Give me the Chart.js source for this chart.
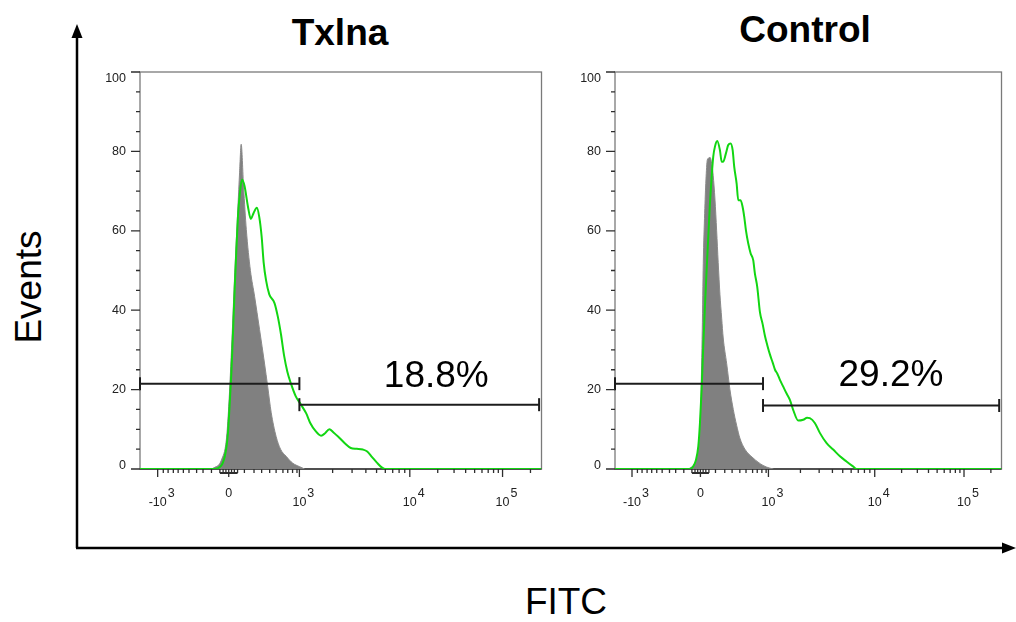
<!DOCTYPE html>
<html>
<head>
<meta charset="utf-8">
<script src="https://cdn.jsdelivr.net/npm/chart.js@4.4.1/dist/chart.umd.min.js"></script>
<style>
  html, body { margin: 0; padding: 0; background: #fff; }
  #stage { position: relative; width: 1016px; height: 622px; overflow: hidden; }
  #frame { position: absolute; left: 0; top: 0; }
  canvas { position: absolute; top: 60px; }
  #cLeft { left: 90px; }
  #cRight { left: 565px; }
  svg text { font-family: "Liberation Sans", Arial, sans-serif; fill: #000; }
</style>
</head>
<body>
<div id="stage">
  <svg id="frame" width="1016" height="622">
    <line x1="77" y1="548" x2="77" y2="36" stroke="#000" stroke-width="2.5"/>
    <polygon points="77,24 71.5,38 82.5,38" fill="#000"/>
    <line x1="76" y1="548" x2="1004" y2="548" stroke="#000" stroke-width="2.5"/>
    <polygon points="1016,548 1002,542.5 1002,553.5" fill="#000"/>
    <text x="340" y="45" font-size="37" font-weight="bold" text-anchor="middle">Txlna</text>
    <text x="805" y="42" font-size="37" font-weight="bold" text-anchor="middle">Control</text>
    <text transform="translate(41,287) rotate(-90)" font-size="37" text-anchor="middle">Events</text>
    <text x="566" y="614" font-size="37" text-anchor="middle">FITC</text>
  </svg>
  <canvas id="cLeft" width="460" height="450"></canvas>
  <canvas id="cRight" width="445" height="450"></canvas>
</div>
<script>
// FITC axis is shown in display channels (0–1000) of a biexponential transform.
const xTickChannels = [44, 221, 397, 672, 903];
const xTickBase = ['-10', '0', '10', '10', '10'];
const xTickExp = ['3', '', '3', '4', '5'];
// minor marks in the linear region around zero
const linearMinorChannels = [58, 70, 83, 95, 108, 122, 141, 157, 178,
                             199, 207, 214, 228, 235, 243,
                             260, 284, 303, 323, 339, 356, 368, 380, 391];
const yTickValues = [0, 20, 40, 60, 80, 100];

// Txlna — isotype (grey) and FITC-stained (green) histograms
const txlnaIsoCh = [178, 190, 194, 203, 215, 221, 229, 236, 244, 248, 252, 258, 264.8, 275, 285.4, 297.8, 310, 318, 326.8, 339, 350, 364, 380, 397, 410];
const txlnaIsoEv = [0, 0.6, 0.8, 2.3, 7.3, 15.7, 32.6, 49.4, 66.2, 74.6, 81.8, 71, 60.3, 50, 43.5, 35.1, 26.7, 20.8, 14.2, 8.2, 5, 3.2, 1.5, 0.6, 0];
const txlnaFitcCh = [0, 186, 200, 206, 211, 216, 219, 223, 227.5, 231.6, 235.7, 240, 244, 248, 254, 260.5, 268.7, 276, 283, 291, 297, 303, 308, 314, 322, 335, 343, 351, 359, 367, 376, 388, 401, 414, 424, 437, 451, 461, 471.5, 482, 495, 510, 525, 540, 555, 566, 578, 590, 602, 610, 1000];
const txlnaFitcEv = [0, 0, 0.6, 1.5, 3.1, 6, 9, 15.7, 24.1, 34.2, 45.1, 55.2, 63.6, 68.7, 72.9, 71.2, 66.2, 63, 64.5, 65.8, 63.5, 58.5, 52, 47.5, 44, 41.8, 38.5, 34, 28.5, 24.5, 21.5, 18.3, 16.2, 14, 11.6, 9.6, 8.4, 9, 10, 9.2, 8, 6.5, 5.3, 5.1, 4.9, 4.4, 3, 1.6, 0.4, 0, 0];
const txlnaGateNegCh = [0, 397];
const txlnaGatePosCh = [397, 994];
const txlnaGateLevels = [21.5, 16.2];
const txlnaPositive = '18.8%';

// Control — isotype (grey) and FITC-stained (green) histograms
const controlIsoCh = [190, 194, 207, 215.5, 219.8, 222.4, 225.8, 228.4, 232, 235.3, 238.7, 242, 245.7, 251.6, 254, 258.6, 263, 267, 271.5, 276, 280, 289, 297.4, 306, 314.7, 323, 336, 357, 383, 401, 410];
const controlIsoEv = [0, 0.25, 1.5, 4.9, 9.9, 18.3, 35, 51.8, 64.4, 72.8, 77.8, 78.3, 78.5, 76.1, 74, 68, 60, 52, 44, 38, 33, 26.5, 20, 15, 11, 7.8, 5, 2.8, 0.9, 0.2, 0];
const controlFitcCh = [0, 194, 202.5, 209.5, 215.5, 219.8, 224.1, 228.4, 232.7, 237.1, 241.4, 245.7, 250.1, 254.2, 258.6, 264.5, 271.5, 276, 280, 287, 293, 299.2, 304.4, 308.5, 314.7, 318.9, 325, 330.2, 334.4, 338.8, 344.8, 351, 357.6, 362, 368, 375, 382, 388, 394, 401, 408, 414, 420, 427, 435, 444, 452.5, 461, 474, 487, 497, 504, 517, 530, 547.5, 564.5, 582, 599, 616, 625, 1000];
const controlFitcEv = [0, 0, 0.7, 2.3, 5.7, 11.6, 20, 30.9, 41, 50.2, 58.6, 67, 73.7, 78.7, 81.2, 82.6, 80.3, 77.4, 77.4, 79.5, 81.6, 82, 80.3, 76.1, 71.9, 67.7, 67.7, 66, 63.5, 60.1, 56.8, 54.3, 52.6, 49.2, 45.9, 39.5, 36.5, 33.5, 31.2, 28.8, 26.8, 25, 24, 22.4, 20.8, 19, 17.4, 14.9, 12.2, 12.4, 12.9, 12.8, 11.6, 9.1, 6.5, 4.9, 3.2, 1.9, 0.65, 0, 0];
const controlGateNegCh = [0, 383];
const controlGatePosCh = [383, 994];
const controlGateLevels = [21.5, 16];
const controlPositive = '29.2%';

const LABEL_FONT = '"Liberation Sans", Arial, sans-serif';

function pts(xs, ys) {
  return xs.map((x, i) => ({ x: x, y: Array.isArray(ys) ? ys[i] : ys }));
}

function minorChannels() {
  const out = linearMinorChannels.slice();
  // logarithmic decades above 10^3
  for (let i = 2; i < xTickChannels.length; i++) {
    const start = xTickChannels[i];
    const width = i + 1 < xTickChannels.length
      ? xTickChannels[i + 1] - start
      : xTickChannels[i] - xTickChannels[i - 1];
    for (let k = 2; k <= 9; k++) {
      const ch = start + Math.log10(k) * width;
      if (ch < 1000) out.push(ch);
    }
  }
  return out;
}

const flowAxes = {
  id: 'flowAxes',
  beforeDatasetsDraw(chart) {
    const { ctx, chartArea: a } = chart;
    ctx.save();
    ctx.strokeStyle = '#7a7a7a';
    ctx.lineWidth = 1.3;
    ctx.strokeRect(a.left, a.top, a.right - a.left, a.bottom - a.top);
    ctx.strokeStyle = '#333';
    ctx.beginPath();
    ctx.moveTo(a.left, a.bottom); ctx.lineTo(a.right, a.bottom);
    ctx.stroke();
    ctx.restore();
  },
  afterDatasetsDraw(chart, args, opts) {
    const { ctx, chartArea: a, scales: { x, y } } = chart;
    ctx.save();
    ctx.strokeStyle = '#2e2e2e';
    ctx.lineWidth = 1.3;
    ctx.beginPath();
    // y ticks, every 5 events, major every 20
    for (let v = 0; v <= 100; v += 5) {
      const py = y.getPixelForValue(v);
      const len = v % 20 === 0 ? 9 : 4;
      ctx.moveTo(a.left, py); ctx.lineTo(a.left - len, py);
    }
    // x ticks
    xTickChannels.forEach(ch => {
      const px = x.getPixelForValue(ch);
      ctx.moveTo(px, a.bottom); ctx.lineTo(px, a.bottom + 8);
    });
    minorChannels().forEach(ch => {
      const px = x.getPixelForValue(ch);
      ctx.moveTo(px, a.bottom); ctx.lineTo(px, a.bottom + 4);
    });
    ctx.stroke();
    // bar marking the linear zone around zero
    ctx.lineWidth = 2;
    ctx.beginPath();
    ctx.moveTo(x.getPixelForValue(199), a.bottom + 4);
    ctx.lineTo(x.getPixelForValue(243), a.bottom + 4);
    ctx.stroke();

    ctx.fillStyle = '#222';
    ctx.font = '12.5px ' + LABEL_FONT;
    ctx.textAlign = 'right';
    ctx.textBaseline = 'middle';
    yTickValues.forEach(v => {
      const py = Math.min(Math.max(y.getPixelForValue(v), a.top + 7), a.bottom - 3);
      ctx.fillText(String(v), a.left - 14, py);
    });
    ctx.textBaseline = 'alphabetic';
    xTickChannels.forEach((ch, i) => {
      const px = x.getPixelForValue(ch);
      ctx.font = '12.5px ' + LABEL_FONT;
      ctx.textAlign = 'center';
      if (xTickExp[i]) {
        ctx.fillText(xTickBase[i], px, a.bottom + 37);
        const w = ctx.measureText(xTickBase[i]).width;
        ctx.textAlign = 'left';
        ctx.fillText(xTickExp[i], px + w / 2 + 1, a.bottom + 28);
      } else {
        ctx.fillText(xTickBase[i], px, a.bottom + 28);
      }
    });

    // percentage of positive events
    ctx.fillStyle = '#000';
    ctx.font = '37px ' + LABEL_FONT;
    ctx.textAlign = 'center';
    ctx.fillText(opts.text, x.getPixelForValue(opts.at[0]), y.getPixelForValue(opts.at[1]));
    ctx.restore();
  }
};

function gateSet(xs, level) {
  return {
    type: 'line',
    data: pts(xs, level),
    borderColor: '#1c1c1c',
    borderWidth: 2,
    pointStyle: 'line',
    pointRotation: 90,
    pointRadius: 6.5,
    pointBorderColor: '#1c1c1c',
    pointBorderWidth: 2,
    fill: false,
    clip: false,
    order: 0
  };
}

function makePanel(id, p) {
  return new Chart(document.getElementById(id), {
    type: 'line',
    data: {
      datasets: [
        gateSet(p.negCh, p.levels[0]),
        gateSet(p.posCh, p.levels[1]),
        {
          data: pts(p.fitcCh, p.fitcEv),
          borderColor: '#12d612',
          borderWidth: 2,
          pointRadius: 0,
          fill: false,
          cubicInterpolationMode: 'monotone',
          order: 1
        },
        {
          data: pts(p.isoCh, p.isoEv),
          borderColor: '#8a8a8a',
          borderWidth: 1,
          backgroundColor: '#808080',
          pointRadius: 0,
          fill: 'origin',
          cubicInterpolationMode: 'monotone',
          order: 2
        }
      ]
    },
    options: {
      responsive: false,
      animation: false,
      devicePixelRatio: 1,
      layout: { padding: { top: 12, right: p.padRight, left: 0, bottom: 0 } },
      plugins: {
        legend: { display: false },
        tooltip: { enabled: false },
        flowAxes: { text: p.percent, at: p.percentAt }
      },
      scales: {
        x: {
          type: 'linear', min: 0, max: 1000,
          grid: { display: false }, border: { display: false },
          ticks: { display: false },
          afterFit(s) { s.height = 41; }
        },
        y: {
          min: 0, max: 100,
          grid: { display: false }, border: { display: false },
          ticks: { display: false },
          afterFit(s) { s.width = 50; }
        }
      }
    },
    plugins: [flowAxes]
  });
}

makePanel('cLeft', {
  isoCh: txlnaIsoCh, isoEv: txlnaIsoEv,
  fitcCh: txlnaFitcCh, fitcEv: txlnaFitcEv,
  negCh: txlnaGateNegCh, posCh: txlnaGatePosCh, levels: txlnaGateLevels,
  percent: txlnaPositive, percentAt: [738, 20.7], padRight: 7
});
makePanel('cRight', {
  isoCh: controlIsoCh, isoEv: controlIsoEv,
  fitcCh: controlFitcCh, fitcEv: controlFitcEv,
  negCh: controlGateNegCh, posCh: controlGatePosCh, levels: controlGateLevels,
  percent: controlPositive, percentAt: [714, 20.9], padRight: 8
});
</script>
</body>
</html>
